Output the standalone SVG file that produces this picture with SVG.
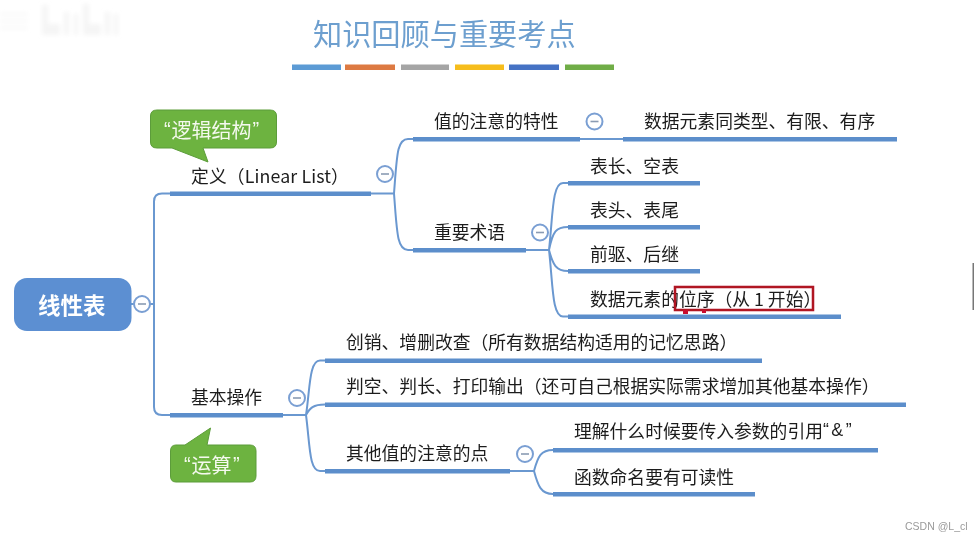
<svg xmlns="http://www.w3.org/2000/svg" width="974" height="541" viewBox="0 0 974 541">
<style>
text{font-family:"Noto Sans CJK SC","Noto Sans",sans-serif;fill:#1c1c1c;font-size:17.8px;dominant-baseline:central;text-spacing-trim:space-all}
.bar{fill:#5b8ecb}
.con{fill:none;stroke:#6b98d0;stroke-width:2}
.tog circle{fill:#fff;stroke:#7a9fd3;stroke-width:2}
.tog line{stroke:#8a9bb3;stroke-width:1.6}
.call path{fill:#6db33f;stroke:#5c9c3a;stroke-width:1}
.call text{fill:#f4f9ee;font-size:20px}
.q{font-family:"Liberation Sans",sans-serif}
</style>
<defs>
<filter id="b" x="-20%" y="-20%" width="140%" height="140%"><feGaussianBlur stdDeviation="2"/></filter>
<filter id="soft" x="0" y="0" width="974" height="541" filterUnits="userSpaceOnUse"><feGaussianBlur stdDeviation="0.4"/></filter>
</defs>
<rect width="974" height="541" fill="#fff"/>
<g id="watermark-blur" filter="url(#b)" fill="#f5f5f5">
<rect x="0" y="13" width="28" height="2"/><rect x="0" y="20" width="28" height="2"/><rect x="0" y="27" width="28" height="2"/>
<rect x="42" y="5" width="6" height="30"/><rect x="48" y="24" width="12" height="11"/><rect x="64" y="12" width="5" height="23"/><rect x="74" y="14" width="4" height="21"/><rect x="83" y="4" width="6" height="31"/><rect x="89" y="24" width="12" height="11"/><rect x="105" y="12" width="5" height="23"/><rect x="114" y="14" width="4" height="21"/>
</g>
<g id="diagram" filter="url(#soft)">
<g id="title">
<text x="313" y="31.500" style="font-size:29.200px;fill:#6d9fcf">知识回顾与重要考点</text>
<rect x="292" y="64.500" width="49" height="5.500" fill="#5b9bd5"/>
<rect x="345" y="64.500" width="50" height="5.500" fill="#dd7a42"/>
<rect x="401" y="64.500" width="48" height="5.500" fill="#a5a5a5"/>
<rect x="455" y="64.500" width="49" height="5.500" fill="#f6bd1a"/>
<rect x="509" y="64.500" width="50" height="5.500" fill="#4472c4"/>
<rect x="565" y="64.500" width="49" height="5.500" fill="#70ad47"/>
</g>
<g id="connectors">
<path class="con" d="M131 304H154M170 193.500H162Q154 193.500 154 201.500V407Q154 415 162 415H170"/>
<path class="con" d="M371 193.500H394M413 139H408C397 139 397 155 394 193.500C397 232 397 250 408 250H413"/>
<path class="con" d="M580 139H623"/>
<path class="con" d="M526 250H549M568 183H563C552 183 553 215 549 250C553 231 556 227 568 227M568 271C556 271 553 265 549 250M568 316.500H563C552 316.500 553 285 549 250"/>
<path class="con" d="M283 415H306M325 360.500H320C309 360.500 310 390 306 415C310 408 313 404.500 325 404.500M325 471H320C309 471 310 445 306 415"/>
<path class="con" d="M510 471H534M553 450C541 450 538 456 534 471C538 486 541 494 553 494"/>
</g>
<g id="root"><rect x="14" y="278" width="117.500" height="53" rx="13" fill="#5b8fd2"/><text x="38" y="303.500" style="font-size:22.500px;font-weight:700;fill:#fff">线性表</text></g>
<g id="toggle-root" class="tog"><circle cx="142" cy="304" r="8"/><line x1="138" y1="304" x2="146" y2="304"/></g>
<g id="n-def"><rect class="bar" x="170" y="191.500" width="201" height="4.500"/><text x="191" y="174.500" style="letter-spacing:.12px">定义（Linear List）</text></g>
<g id="toggle-def" class="tog"><circle cx="385" cy="174" r="8"/><line x1="381" y1="174" x2="389" y2="174"/></g>
<g id="n-attr"><rect class="bar" x="413" y="137" width="167" height="4.500"/><text x="434" y="119.500">值的注意的特性</text></g>
<g id="toggle-attr" class="tog"><circle cx="594.500" cy="121.500" r="8"/><line x1="590.500" y1="121.500" x2="598.500" y2="121.500"/></g>
<g id="n-attr1"><rect class="bar" x="623" y="137" width="274" height="4.500"/><text x="644" y="119.500">数据元素同类型、有限、有序</text></g>
<g id="n-term"><rect class="bar" x="413" y="248" width="113" height="4.500"/><text x="434" y="230.500">重要术语</text></g>
<g id="toggle-term" class="tog"><circle cx="540" cy="232.500" r="8"/><line x1="536" y1="232.500" x2="544" y2="232.500"/></g>
<g id="n-t1"><rect class="bar" x="568" y="181" width="132" height="4.500"/><text x="590" y="164.500">表长、空表</text></g>
<g id="n-t2"><rect class="bar" x="568" y="225" width="132" height="4.500"/><text x="590" y="208.500">表头、表尾</text></g>
<g id="n-t3"><rect class="bar" x="568" y="269" width="132" height="4.500"/><text x="590" y="252.500">前驱、后继</text></g>
<g id="n-t4"><rect class="bar" x="568" y="314.500" width="273" height="4.500"/><text x="590" y="297.500">数据元素的位序（从 1 开始）</text>
<rect x="675" y="287" width="138" height="23" fill="none" stroke="#b01322" stroke-width="2.500"/>
<rect x="683" y="310" width="5" height="4" fill="#c8102e"/><rect x="702" y="310" width="4" height="3" fill="#c8102e"/></g>
<g id="n-op"><rect class="bar" x="170" y="413" width="113" height="4.500"/><text x="191" y="395.500">基本操作</text></g>
<g id="toggle-op" class="tog"><circle cx="297" cy="398" r="8"/><line x1="293" y1="398" x2="301" y2="398"/></g>
<g id="n-o1"><rect class="bar" x="325" y="358.500" width="437" height="4.500"/><text x="346" y="340.500">创销、增删改查（所有数据结构适用的记忆思路）</text></g>
<g id="n-o2"><rect class="bar" x="325" y="402.500" width="581" height="4.500"/><text x="346" y="384.500">判空、判长、打印输出（还可自己根据实际需求增加其他基本操作）</text></g>
<g id="n-o3"><rect class="bar" x="325" y="469" width="185" height="4.500"/><text x="346" y="451.500">其他值的注意的点</text></g>
<g id="toggle-o3" class="tog"><circle cx="525" cy="454" r="8"/><line x1="521" y1="454" x2="529" y2="454"/></g>
<g id="n-o31"><rect class="bar" x="553" y="448" width="325" height="4.500"/><text x="574" y="430">理解什么时候要传入参数的引用<tspan class="q" style="letter-spacing:2.5px">“&amp;”</tspan></text></g>
<g id="n-o32"><rect class="bar" x="553" y="492" width="202" height="4.500"/><text x="574" y="475.500">函数命名要有可读性</text></g>
<g id="callout-logic" class="call"><path d="M157 110H270Q276.500 110 276.500 116V142Q276.500 148 270 148H203L208 162L172 148H157Q150.500 148 150.500 142V116Q150.500 110 157 110Z"/><text x="164" y="128.500"><tspan class="q">“</tspan><tspan x="171.500">逻辑结构</tspan><tspan class="q" x="252.500">”</tspan></text></g>
<g id="callout-op" class="call"><path d="M176 445H185L210.500 428L207 445H250Q256 445 256 451V476Q256 482 250 482H176Q170.500 482 170.500 476V451Q170.500 445 176 445Z"/><text x="184" y="463.500"><tspan class="q">“</tspan><tspan x="191.500">运算</tspan><tspan class="q" x="233">”</tspan></text></g>
<rect id="edge-mark" x="972.500" y="263" width="1.500" height="47" fill="#777"/>
<text id="csdn" x="905" y="526" style="font-family:'Liberation Sans',sans-serif;font-size:10.500px;fill:#9a9a9a">CSDN @L_cl</text>
</g>
</svg>
